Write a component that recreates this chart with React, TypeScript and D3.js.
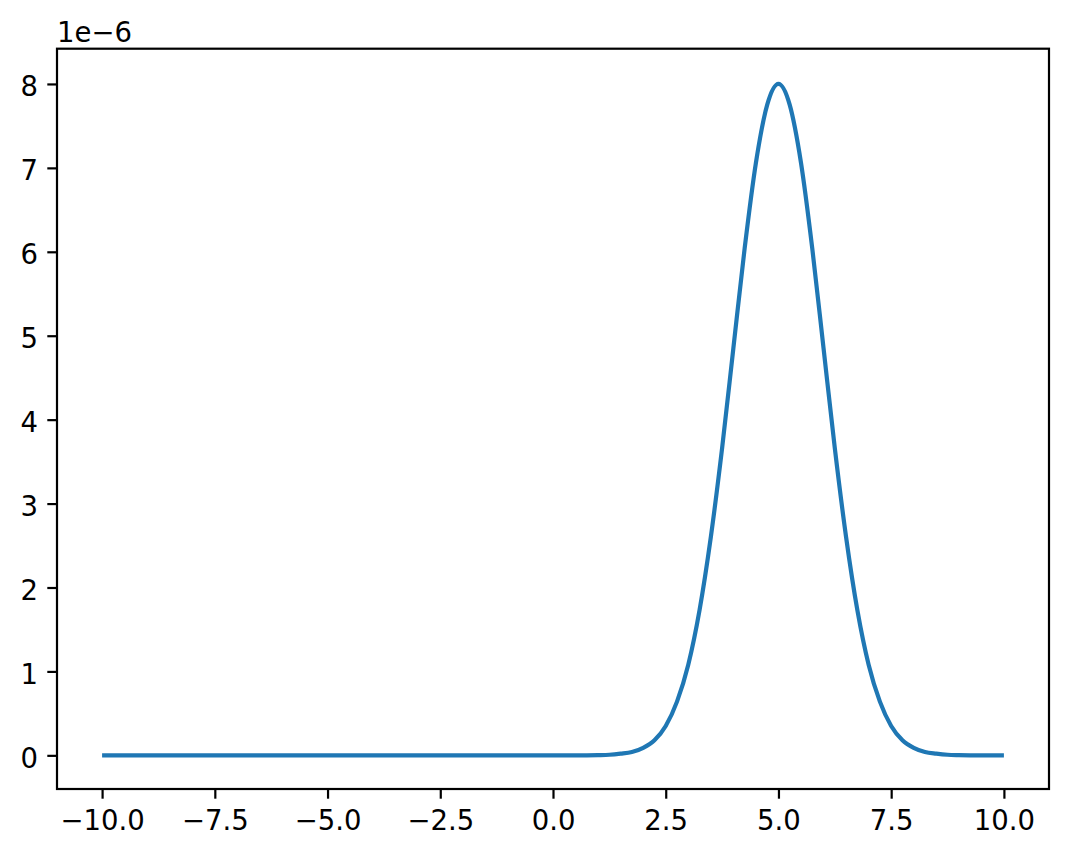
import React, { useRef, useEffect } from 'react';
import * as d3 from 'd3';

const xs = [-10, -8, -6, -4, -2, 0, 0.5, 1, 1.25, 1.5, 1.75, 2, 2.25, 2.5, 2.75, 3, 3.25, 3.5, 3.75, 4, 4.25, 4.5, 4.75, 5, 5.25, 5.5, 5.75, 6, 6.25, 6.5, 6.75, 7, 7.25, 7.5, 7.75, 8, 8.25, 8.5, 8.75, 9, 9.5, 10];
const ys = [0, 0, 0, 0, 0, 0, 0, 0.003, 0.007, 0.02, 0.04, 0.09, 0.18, 0.35, 0.64, 1.08, 1.73, 2.6, 3.66, 4.85, 6.04, 7.06, 7.75, 8.0, 7.75, 7.06, 6.04, 4.85, 3.66, 2.6, 1.73, 1.08, 0.64, 0.35, 0.18, 0.09, 0.04, 0.02, 0.007, 0.003, 0, 0];
const xTicks = [-10, -7.5, -5, -2.5, 0, 2.5, 5, 7.5, 10];
const yTicks = [0, 1, 2, 3, 4, 5, 6, 7, 8];
const offsetLabel = '1e\u22126';

const Chart = () => {
  const svgRef = useRef<SVGSVGElement>(null);

  useEffect(() => {
    if (!svgRef.current) return;
    const svg = d3.select(svgRef.current);
    svg.selectAll('*').remove();

    const width = 1069;
    const height = 856;
    const left = 57, right = 1049, top = 48.7, bottom = 789;
    const fontSize = 27.5;
    const tickLen = 9.7;
    const font = '"DejaVu Sans", sans-serif';

    svg.attr('width', width).attr('height', height).style('background', 'white');

    const xScale = d3.scaleLinear().domain([-11, 11]).range([left, right]);
    const yScale = d3.scaleLinear().domain([-0.401, 8.42]).range([bottom, top]);

    const data = xs.map((x, i) => [x, ys[i]] as [number, number]);

    const line = d3.line<[number, number]>()
      .x(d => xScale(d[0]))
      .y(d => yScale(d[1]))
      .curve(d3.curveMonotoneX);

    svg.append('path')
      .datum(data)
      .attr('fill', 'none')
      .attr('stroke', '#1f77b4')
      .attr('stroke-width', 4.2)
      .attr('stroke-linejoin', 'round')
      .attr('stroke-linecap', 'butt')
      .attr('d', line);

    // Оси
    const xAxis = d3.axisBottom(xScale)
      .tickValues(xTicks)
      .tickSize(tickLen)
      .tickSizeOuter(0)
      .tickFormat(d3.format('.1f'));
    const yAxis = d3.axisLeft(yScale)
      .tickValues(yTicks)
      .tickSize(tickLen)
      .tickSizeOuter(0)
      .tickFormat(d3.format('d'));

    const gx = svg.append('g').attr('transform', `translate(0,${bottom})`).call(xAxis);
    const gy = svg.append('g').attr('transform', `translate(${left},0)`).call(yAxis);

    [gx, gy].forEach(g => {
      g.select('.domain').remove();
      g.selectAll('.tick line').attr('stroke', '#000').attr('stroke-width', 2.2);
      g.selectAll('.tick text')
        .attr('fill', '#000')
        .attr('font-family', font)
        .attr('font-size', fontSize);
    });
    gx.selectAll('.tick text').attr('y', 41).attr('dy', 0);
    gy.selectAll('.tick text').attr('x', -19).attr('dy', 12);

    // Рамка
    svg.append('rect')
      .attr('x', left)
      .attr('y', top)
      .attr('width', right - left)
      .attr('height', bottom - top)
      .attr('fill', 'none')
      .attr('stroke', '#000')
      .attr('stroke-width', 2.2);

    svg.append('text')
      .attr('x', left)
      .attr('y', 41.5)
      .attr('font-family', font)
      .attr('font-size', fontSize)
      .attr('fill', '#000')
      .text(offsetLabel);
  }, []);

  return <svg ref={svgRef} style={{ position: 'absolute', left: 0, top: 0 }}></svg>;
};

export default function App() {
  return <Chart />;
}
